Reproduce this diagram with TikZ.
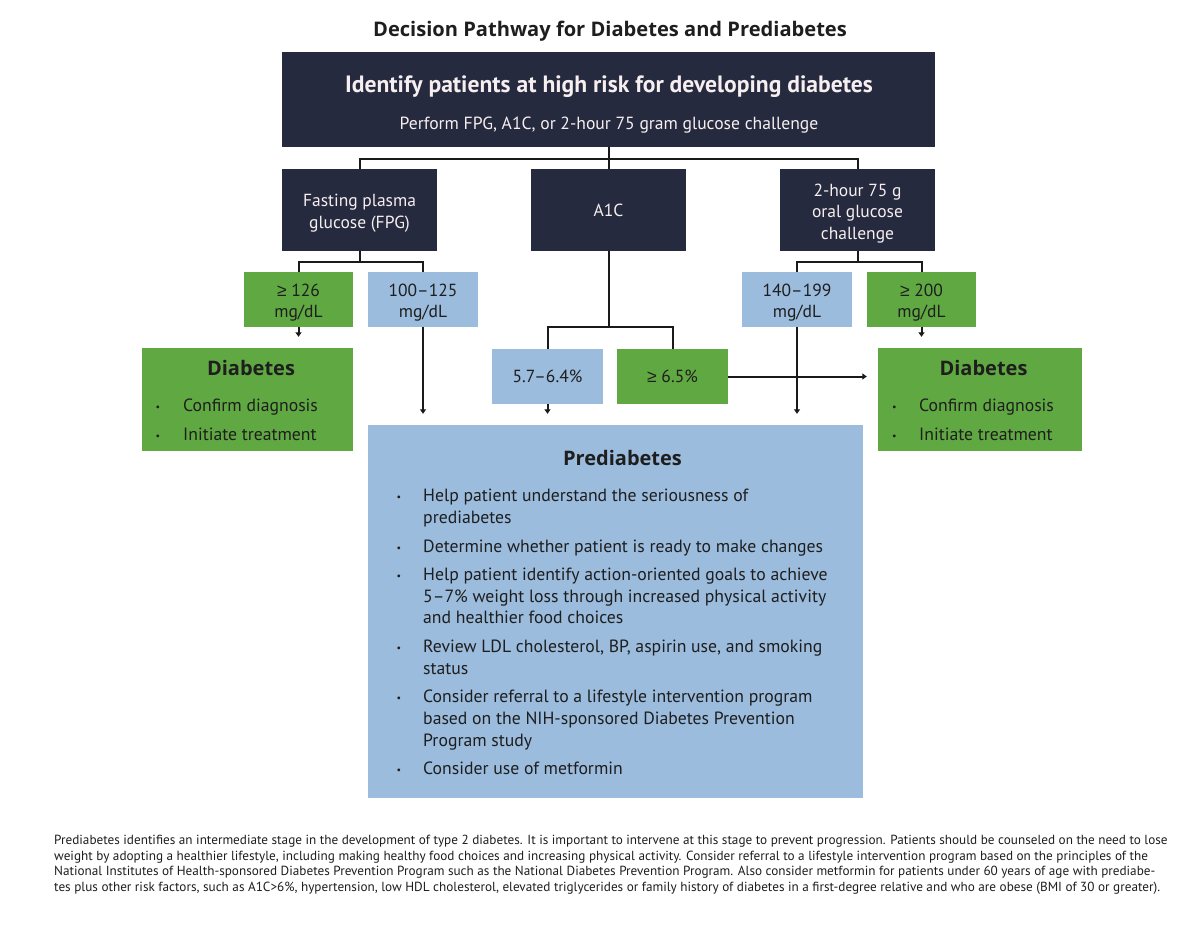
\documentclass[tikz,border=0pt]{standalone}
\usepackage{fontspec}
\setmainfont{PT Sans}
\newfontfamily\hfont{Open Sans}
\newfontfamily\geqfont{Liberation Sans}
\usetikzlibrary{arrows.meta}
\definecolor{navyc}{HTML}{252A3E}
\definecolor{greenc}{HTML}{60A842}
\definecolor{bluec}{HTML}{9BBCDD}
\definecolor{txtc}{HTML}{1E1E1E}
\definecolor{linec}{HTML}{1A1A1A}
\definecolor{ltxt}{HTML}{F7EEF0}
\newcommand\bul{{\fontsize{10}{10}\selectfont\raisebox{1pt}{•}}}
\newcommand\mygeq{{\geqfont ≥}}
\newcommand\tp{\rule{0pt}{19pt}}
\tikzset{
  box/.style={rectangle, inner sep=0pt, align=center, font=\fontsize{17.5}{21.5}\selectfont},
  navy/.style={box, fill=navyc, text=ltxt},
  grn/.style={box, fill=greenc, text=txtc},
  blu/.style={box, fill=bluec, text=txtc},
  conn/.style={line width=2pt, draw=linec},
  arr/.style={conn, -{Triangle[width=6pt,length=4.5pt]}, shorten >=11pt},
  hdr/.style={anchor=base, font=\hfont\bfseries\fontsize{20}{24}\selectfont, text=txtc},
  lst/.style={anchor=base west, inner sep=0pt, text=txtc},
}
\begin{document}
\begin{tikzpicture}[x=1pt,y=-1pt]
\fill[white] (0,0) rectangle (1200,927);
\useasboundingbox (0,0) rectangle (1200,927);

% title
\node[anchor=base, font=\hfont\bfseries\fontsize{20.1}{24}\selectfont, text=txtc] (title) at (610,36) {Decision Pathway for Diabetes and Prediabetes};

% top box
\node[navy, minimum width=653pt, minimum height=95pt] (top) at (608.5,99.5) {};
\node[anchor=base, font=\bfseries\fontsize{23.6}{26}\selectfont, text=ltxt] (toph) at (609,92.7) {Identify patients at high risk for developing diabetes};
\node[anchor=base, font=\fontsize{17.6}{20}\selectfont, text=ltxt] (tops) at (609,129.3) {Perform FPG, A1C, or 2-hour 75 gram glucose challenge};

% test boxes
\node[navy, minimum width=155pt, minimum height=82pt] (fpg) at (359.5,210) {\tp Fasting plasma\\glucose (FPG)};
\node[navy, minimum width=155pt, minimum height=82pt] (a1c) at (608.5,210) {A1C};
\node[navy, minimum width=155pt, minimum height=82pt] (ogtt) at (857.5,210) {\tp 2-hour 75 g\\oral glucose\\challenge};

% result boxes
\node[grn, minimum width=109pt, minimum height=55pt] (g126) at (298.5,299.5) {\tp\mygeq{} 126\\mg/dL};
\node[blu, minimum width=110pt, minimum height=55pt] (b100) at (423,299.5) {\tp 100–125\\mg/dL};
\node[blu, minimum width=110pt, minimum height=55pt] (b140) at (797,299.5) {\tp 140–199\\mg/dL};
\node[grn, minimum width=109pt, minimum height=55pt] (g200) at (921.5,299.5) {\tp\mygeq{} 200\\mg/dL};
\node[blu, minimum width=111pt, minimum height=55pt] (b57) at (547.5,376.5) {5.7–6.4\%};
\node[grn, minimum width=111pt, minimum height=55pt] (g65) at (672.5,376.5) {\mygeq{} 6.5\%};

% outcome boxes
\node[grn, minimum width=211pt, minimum height=103pt] (dL) at (247.5,399.5) {};
\node[grn, minimum width=204pt, minimum height=103pt] (dR) at (980,399.5) {};
\node[blu, minimum width=495pt, minimum height=373pt] (pre) at (615.5,611.5) {};

\node[hdr] (dLh) at (251,375.7) {Diabetes};
\node[lst, font=\fontsize{17.7}{28.3}\selectfont] (dLl) at (155.5,411.7)
  {\begin{tabular}[t]{@{}p{27.5pt}@{}l@{}}\bul&Confirm diagnosis\\\bul&Initiate treatment\end{tabular}};
\node[hdr] (dRh) at (983.5,375.7) {Diabetes};
\node[lst, font=\fontsize{17.7}{28.3}\selectfont] (dRl) at (892,411.7)
  {\begin{tabular}[t]{@{}p{27pt}@{}l@{}}\bul&Confirm diagnosis\\\bul&Initiate treatment\end{tabular}};

\node[hdr] (preh) at (622.5,465.7) {Prediabetes};
\node[lst, font=\fontsize{17.7}{21.6}\selectfont] (prel) at (396.5,501.7)
  {\begin{tabular}[t]{@{}p{26.5pt}@{}l@{}}
  \bul&Help patient understand the seriousness of\\
      &prediabetes\\[7.1pt]
  \bul&Determine whether patient is ready to make changes\\[7.1pt]
  \bul&Help patient identify action-oriented goals to achieve\\
      &5–7\% weight loss through increased physical activity\\
      &and healthier food choices\\[7.1pt]
  \bul&Review LDL cholesterol, BP, aspirin use, and smoking\\
      &status\\[7.1pt]
  \bul&Consider referral to a lifestyle intervention program\\
      &based on the NIH-sponsored Diabetes Prevention\\
      &Program study\\[7.1pt]
  \bul&Consider use of metformin
  \end{tabular}};

% connectors
\coordinate (tj) at (608.5,159);
\draw[conn] (top.south) -- (a1c.north);
\draw[conn] (fpg.north) |- (tj) -| (ogtt.north);

\coordinate (fj) at (359.5,262);
\draw[conn] (fpg.south) -- (fj);
\draw[conn] (g126.north) |- (fj) -| (b100.north);

\coordinate (aj) at (608.5,327);
\draw[conn] (a1c.south) -- (aj);
\draw[conn] (b57.north) |- (aj) -| (g65.north);

\coordinate (oj) at (857.5,262);
\draw[conn] (ogtt.south) -- (oj);
\draw[conn] (b140.north) |- (oj) -| (g200.north);

\draw[arr] (g126.south) -- (g126.south |- dL.north);
\draw[arr] (b100.south) -- (b100.south |- pre.north);
\draw[arr] (b57.south) -- (b57.south |- pre.north);
\draw[arr] (b140.south) -- (b140.south |- pre.north);
\draw[arr] (g200.south) -- (g200.south |- dR.north);
\draw[arr] (g65.east) -- (g65.east -| dR.west);

% footer
\node[lst, font=\fontsize{13.2}{15.5}\selectfont] (foot) at (54,844.5)
  {\begin{tabular}[t]{@{}l@{}}
  Prediabetes identifies an intermediate stage in the development of type 2 diabetes. It is important to intervene at this stage to prevent progression. Patients should be counseled on the need to lose\\
  weight by adopting a healthier lifestyle, including making healthy food choices and increasing physical activity. Consider referral to a lifestyle intervention program based on the principles of the\\
  National Institutes of Health-sponsored Diabetes Prevention Program such as the National Diabetes Prevention Program. Also consider metformin for patients under 60 years of age with prediabe-\\
  tes plus other risk factors, such as A1C>6\%, hypertension, low HDL cholesterol, elevated triglycerides or family history of diabetes in a first-degree relative and who are obese (BMI of 30 or greater).
  \end{tabular}};
\end{tikzpicture}
\end{document}
